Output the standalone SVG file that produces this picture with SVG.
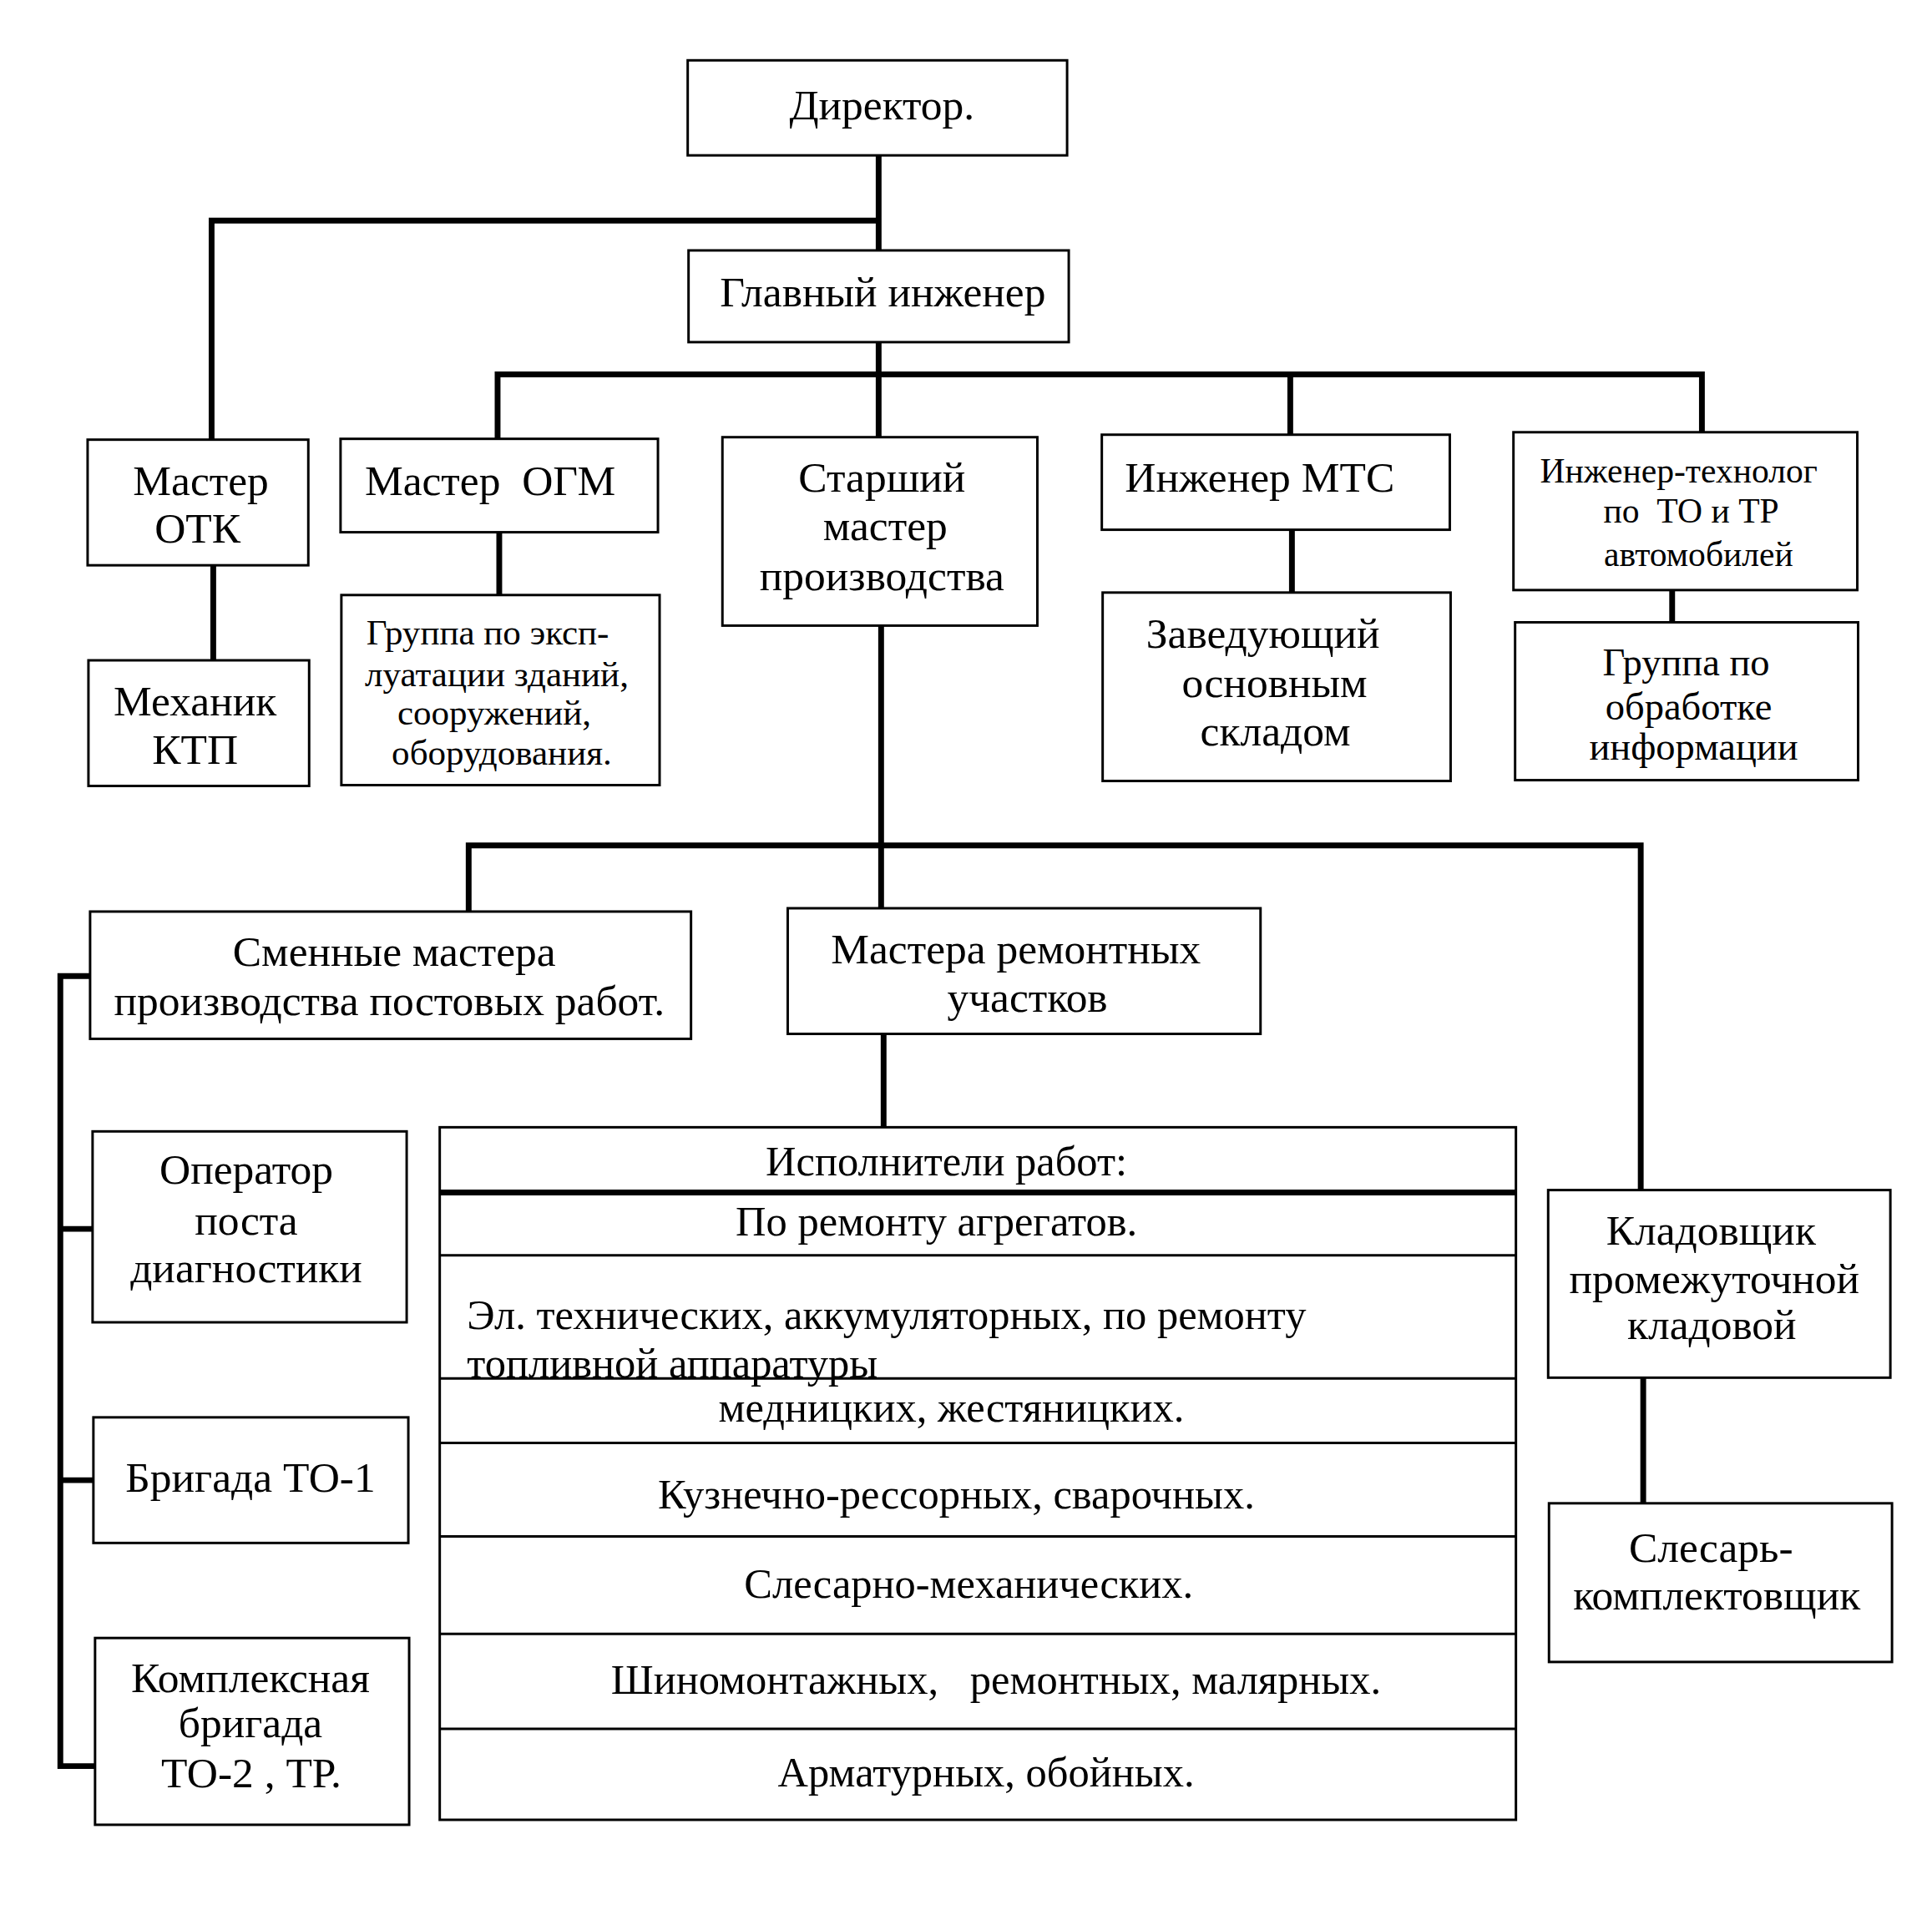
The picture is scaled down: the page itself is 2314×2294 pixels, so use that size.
<svg xmlns="http://www.w3.org/2000/svg" width="2314" height="2294" viewBox="0 0 2314 2294">
<style>
.b{fill:#fff;stroke:#000;stroke-width:3}
.c{fill:none;stroke:#000;stroke-width:7;stroke-linecap:square}
.t{font-family:"Liberation Serif","Times New Roman",serif;font-size:52px;fill:#000;text-anchor:middle}
.s{font-size:43.5px}
.m{font-size:42px}
.g{font-size:47px}
.r{font-size:51px}
.l{text-anchor:start}
</style>
<rect width="2314" height="2294" fill="#fff"/>
<g transform="scale(0.99)">
<g id="connectors">
<path class="c" d="M1063 188V303M256 532V267H1063"/>
<path class="c" d="M1063 414V529M602 531V453H2059V523M1561 453V526"/>
<path class="c" d="M258 684V799"/>
<path class="c" d="M604 644V720"/>
<path class="c" d="M1563 641V717"/>
<path class="c" d="M2023 714V753"/>
<path class="c" d="M1066 757V1099M567 1103V1023H1985V1440"/>
<path class="c" d="M109 1181H73V2137H115M73 1487H112M73 1791H113"/>
<path class="c" d="M1069 1251V1364"/>
<path class="c" d="M1988 1667V1819"/>
</g>
<g id="director"><rect class="b" x="832" y="73" width="459" height="115"/><text class="t" x="1067" y="144">Директор.</text></g>
<g id="glavny"><rect class="b" x="833" y="303" width="460" height="111"/><text class="t" x="1068" y="371">Главный инженер</text></g>
<g id="master-otk"><rect class="b" x="106" y="532" width="267" height="152"/><text class="t" x="243" y="599">Мастер</text><text class="t" x="239" y="657">ОТК</text></g>
<g id="mechanik"><rect class="b" x="107" y="799" width="267" height="152"/><text class="t" x="236" y="866">Механик</text><text class="t" x="236" y="924">КТП</text></g>
<g id="master-ogm"><rect class="b" x="412" y="531" width="384" height="113"/><text class="t" x="593" y="599" xml:space="preserve">Мастер  ОГМ</text></g>
<g id="gruppa-ekspl"><rect class="b" x="413" y="720" width="385" height="230"/><text class="t s" x="590" y="780">Группа по эксп-</text><text class="t s" x="601" y="830">луатации зданий,</text><text class="t s" x="598" y="877">сооружений,</text><text class="t s" x="607" y="925">оборудования.</text></g>
<g id="starshiy"><rect class="b" x="874" y="529" width="381" height="228"/><text class="t" x="1067" y="595">Старший</text><text class="t" x="1071" y="654">мастер</text><text class="t" x="1067" y="714">производства</text></g>
<g id="inzh-mts"><rect class="b" x="1333" y="526" width="421" height="115"/><text class="t" x="1524" y="595">Инженер МТС</text></g>
<g id="zaveduyushchiy"><rect class="b" x="1334" y="717" width="421" height="228"/><text class="t" x="1528" y="784">Заведующий</text><text class="t" x="1542" y="843">основным</text><text class="t" x="1543" y="902">складом</text></g>
<g id="inzh-tech"><rect class="b" x="1831" y="523" width="416" height="191"/><text class="t m" x="2031" y="584">Инженер-технолог</text><text class="t m" x="2046" y="632" xml:space="preserve">по  ТО и ТР</text><text class="t m" x="2055" y="685">автомобилей</text></g>
<g id="gruppa-obr"><rect class="b" x="1833" y="753" width="415" height="191"/><text class="t g" x="2040" y="817">Группа по</text><text class="t g" x="2043" y="871">обработке</text><text class="t g" x="2049" y="919">информации</text></g>
<g id="smennye"><rect class="b" x="109" y="1103" width="727" height="154"/><text class="t" x="477" y="1169">Сменные мастера</text><text class="t" x="471" y="1228">производства постовых работ.</text></g>
<g id="mastera-rem"><rect class="b" x="953" y="1099" width="572" height="152"/><text class="t" x="1229" y="1166">Мастера ремонтных</text><text class="t" x="1243" y="1224">участков</text></g>
<g id="ispolniteli">
<rect class="b" x="532" y="1364" width="1302" height="838"/>
<path d="M532 1443H1834" stroke="#000" stroke-width="7"/>
<path d="M532 1519H1834M532 1668H1834M532 1746H1834M532 1859H1834M532 1977H1834M532 2092H1834" stroke="#000" stroke-width="3"/>
<text class="t r" x="1145" y="1422">Исполнители работ:</text>
<text class="t r" x="1133" y="1495">По ремонту агрегатов.</text>
<text class="t r l" x="565" y="1608">Эл. технических, аккумуляторных, по ремонту</text>
<text class="t r l" x="565" y="1667">топливной аппаратуры</text>
<text class="t r" x="1151" y="1720">медницких, жестяницких.</text>
<text class="t r" x="1157" y="1825">Кузнечно-рессорных, сварочных.</text>
<text class="t r" x="1172" y="1933">Слесарно-механических.</text>
<text class="t r" x="1205" y="2050" xml:space="preserve">Шиномонтажных,   ремонтных, малярных.</text>
<text class="t r" x="1193" y="2162">Арматурных, обойных.</text>
</g>
<g id="operator"><rect class="b" x="112" y="1369" width="380" height="231"/><text class="t" x="298" y="1432">Оператор</text><text class="t" x="298" y="1494">поста</text><text class="t" x="298" y="1552">диагностики</text></g>
<g id="brigada-to1"><rect class="b" x="113" y="1715" width="381" height="152"/><text class="t" x="303" y="1805">Бригада ТО-1</text></g>
<g id="kompleksnaya"><rect class="b" x="115" y="1982" width="380" height="226"/><text class="t" x="303" y="2047">Комплексная</text><text class="t" x="303" y="2102">бригада</text><text class="t" x="304" y="2163">ТО-2 , ТР.</text></g>
<g id="kladovshchik"><rect class="b" x="1873" y="1440" width="414" height="227"/><text class="t" x="2070" y="1506">Кладовщик</text><text class="t" x="2074" y="1565">промежуточной</text><text class="t" x="2071" y="1620">кладовой</text></g>
<g id="slesar"><rect class="b" x="1874" y="1819" width="415" height="192"/><text class="t" x="2070" y="1890">Слесарь-</text><text class="t" x="2077" y="1947">комплектовщик</text></g>
</g>
</svg>
